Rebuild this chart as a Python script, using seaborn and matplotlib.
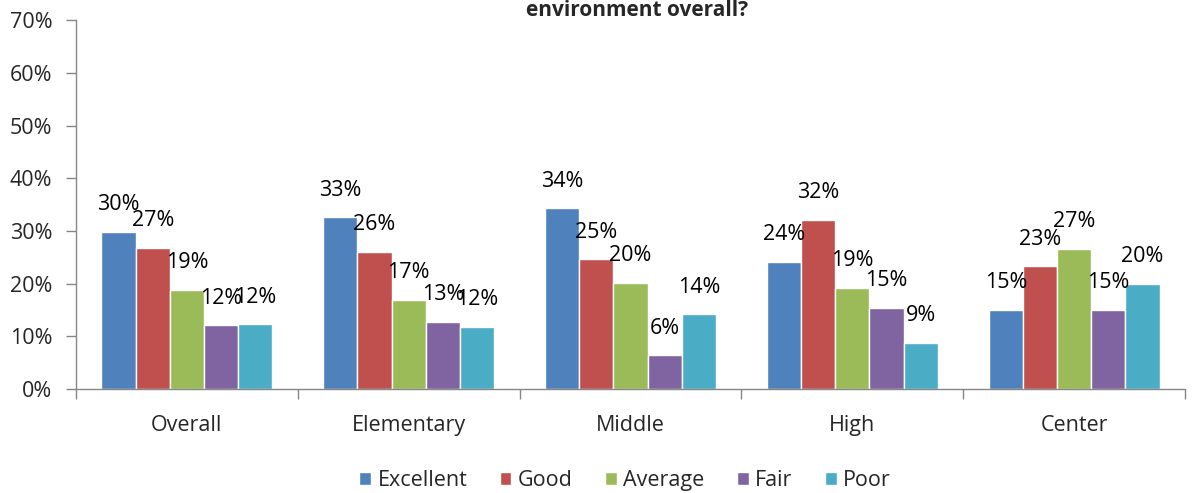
import pandas as pd
import numpy as np
import matplotlib
matplotlib.use("Agg")
import matplotlib.pyplot as plt
import seaborn as sns
from matplotlib.ticker import PercentFormatter, FixedLocator

# data
groups = ["Overall", "Elementary", "Middle", "High", "Center"]
ratings = ["Excellent", "Good", "Average", "Fair", "Poor"]
excellent = [29.8, 32.6, 34.3, 24.1, 15.0]
good = [26.8, 26.0, 24.6, 32.1, 23.3]
average = [18.8, 16.9, 20.1, 19.2, 26.6]
fair = [12.1, 12.7, 6.4, 15.4, 15.0]
poor = [12.3, 11.8, 14.2, 8.7, 19.9]
colors = ["#4F81BD", "#C0504D", "#9BBB59", "#8064A2", "#4BACC6"]

# long form table for seaborn
rows = []
for r, vals in zip(ratings, [excellent, good, average, fair, poor]):
    for g, v in zip(groups, vals):
        rows.append({"group": g, "rating": r, "value": v / 100})
df = pd.DataFrame(rows)

sns.set_style("white")
plt.rcParams["font.family"] = ["Open Sans", "DejaVu Sans"]

fig = plt.figure(figsize=(12.02, 4.93), dpi=100)
ax = fig.add_axes([0.0632, 0.211, 0.9228, 0.748])

sns.barplot(data=df, x="group", y="value", hue="rating", order=groups,
            hue_order=ratings, palette=colors, width=0.77, saturation=1,
            edgecolor="white", linewidth=1, ax=ax, legend=True)

# value labels
for cont, vals in zip(ax.containers, [excellent, good, average, fair, poor]):
    ax.bar_label(cont, labels=[f"{round(v)}%" for v in vals], padding=12,
                 fontsize=15.5, color="black")

ax.set_ylim(0, 0.7)
ax.set_xlim(-0.5, 4.5)
ax.set_yticks(np.arange(0, 0.71, 0.1))
ax.yaxis.set_major_formatter(PercentFormatter(1.0, decimals=0))
ax.tick_params(axis="y", labelsize=15.5, length=7, width=1, color="#868686",
               direction="out", left=True, pad=10)
ax.tick_params(axis="x", labelsize=15.5, length=0, pad=19)
ax.xaxis.set_minor_locator(FixedLocator(np.arange(-0.5, 4.6, 1)))
ax.tick_params(axis="x", which="minor", length=7, width=1, color="#868686",
               direction="out", bottom=True)
ax.set_xlabel("")
ax.set_ylabel("")
for s in ["top", "right"]:
    ax.spines[s].set_visible(False)
for s in ["left", "bottom"]:
    ax.spines[s].set_color("#868686")
    ax.spines[s].set_linewidth(1)

leg = ax.legend(loc="center", bbox_to_anchor=(0.52, 0.026),
                bbox_transform=fig.transFigure, ncol=5, frameon=False,
                fontsize=15.5, handlelength=0.55, handleheight=0.55,
                handletextpad=0.3, columnspacing=1.5)

fig.text(0.53, 0.999, "environment overall?", ha="center", va="top",
         fontsize=15, fontweight="bold")

fig.savefig("out.png", dpi=100)
